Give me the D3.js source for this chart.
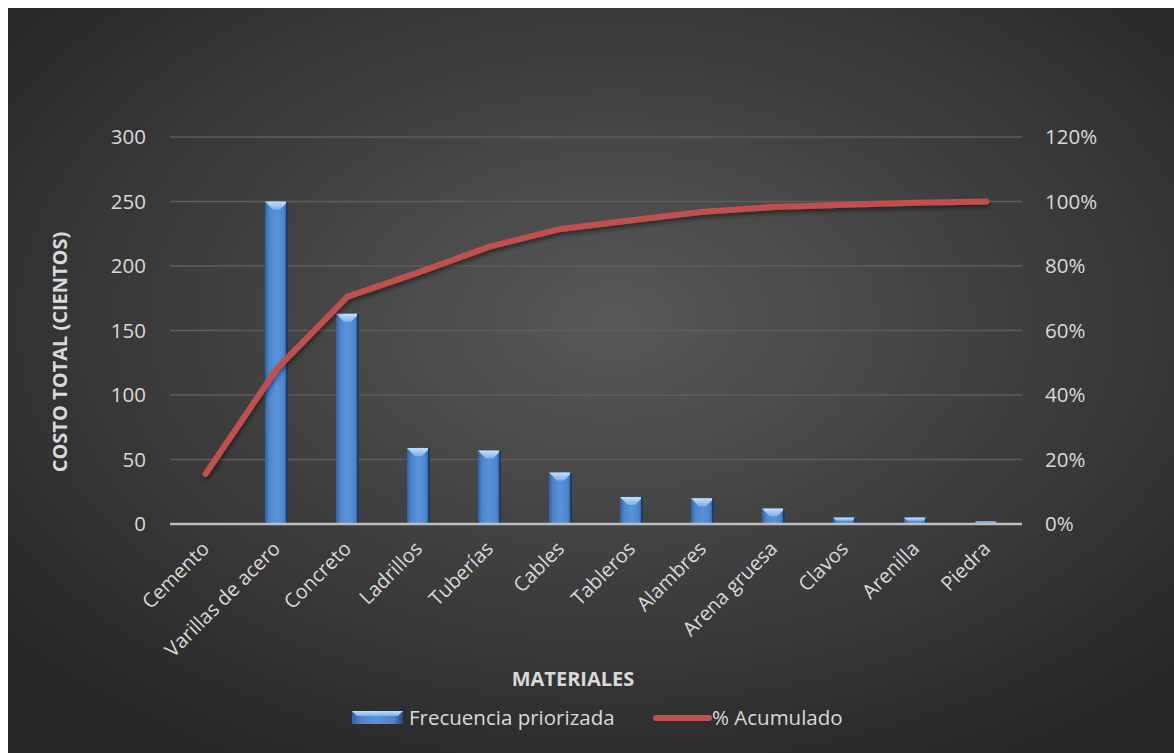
<!DOCTYPE html>
<html>
<head>
<meta charset="utf-8">
<script src="https://cdn.jsdelivr.net/npm/d3@7"></script>
<style>
  body { margin: 0; background: #fff; }
  svg text { font-family: "Open Sans", "DejaVu Sans", sans-serif; fill: #d9d9d9; }
</style>
</head>
<body>
<div class="chart"></div>
<script>
// datos
const materiales = ['Cemento', 'Varillas de acero', 'Concreto', 'Ladrillos', 'Tuberías', 'Cables',
                    'Tableros', 'Alambres', 'Arena gruesa', 'Clavos', 'Arenilla', 'Piedra'];
const frecuencia = [0, 250, 163, 59, 57, 40, 21, 20, 12, 5, 5, 2];
const acumulado = [15.5, 48, 70.5, 78, 86, 91.5, 94.2, 96.8, 98.3, 99.0, 99.6, 100];
const ticksIzq = [0, 50, 100, 150, 200, 250, 300];
const ticksDer = [0, 20, 40, 60, 80, 100, 120];

const W = 1174, H = 753;
const margin = {top: 137, right: 152, bottom: 229, left: 170};
const cw = W - margin.left - margin.right;
const ch = H - margin.top - margin.bottom;

const svg = d3.select('.chart').append('svg').attr('width', W).attr('height', H);
const defs = svg.append('defs');

// fondo radial
const rg = defs.append('radialGradient').attr('id', 'bg')
  .attr('cx', 0.52).attr('cy', 0.42).attr('r', 0.68);
rg.append('stop').attr('offset', '0%').attr('stop-color', '#585858');
rg.append('stop').attr('offset', '100%').attr('stop-color', '#262626');

const bg = defs.append('linearGradient').attr('id', 'barGrad').attr('x1', 0).attr('x2', 1).attr('y1', 0).attr('y2', 0);
bg.append('stop').attr('offset', '0%').attr('stop-color', '#30609e');
bg.append('stop').attr('offset', '18%').attr('stop-color', '#4d85cc');
bg.append('stop').attr('offset', '50%').attr('stop-color', '#5b93db');
bg.append('stop').attr('offset', '82%').attr('stop-color', '#4d85cc');
bg.append('stop').attr('offset', '100%').attr('stop-color', '#24497a');

const tg = defs.append('linearGradient').attr('id', 'topGrad').attr('x1', 0).attr('x2', 0).attr('y1', 0).attr('y2', 1);
tg.append('stop').attr('offset', '0%').attr('stop-color', '#c4e0fb');
tg.append('stop').attr('offset', '100%').attr('stop-color', '#7fb0ea');

const sh = defs.append('filter').attr('id', 'shadow').attr('x', '-10%').attr('y', '-10%').attr('width', '120%').attr('height', '130%');
sh.append('feDropShadow').attr('dx', 1).attr('dy', 3).attr('stdDeviation', 2)
  .attr('flood-color', '#000').attr('flood-opacity', 0.45);

svg.append('rect').attr('x', 8).attr('y', 8).attr('width', W - 8).attr('height', H - 8).attr('fill', 'url(#bg)');

const g = svg.append('g').attr('transform', `translate(${margin.left},${margin.top})`);

const x = d3.scaleBand().domain(materiales).range([0, cw]);
const y = d3.scaleLinear().domain([0, 300]).range([ch, 0]);
const y2 = d3.scaleLinear().domain([0, 120]).range([ch, 0]);

// grilla
g.selectAll('.grid').data(ticksIzq.filter(d => d > 0)).enter().append('line')
  .attr('x1', 0).attr('x2', cw)
  .attr('y1', d => y(d)).attr('y2', d => y(d))
  .attr('stroke', '#5e5e5e').attr('stroke-width', 1.3);

// ejes
const yAxis = g.append('g').call(d3.axisLeft(y).tickValues(ticksIzq).tickSize(0).tickPadding(24));
yAxis.select('.domain').remove();
yAxis.selectAll('text').style('font-size', '20.5px').attr('fill', '#d9d9d9');

const yAxis2 = g.append('g').attr('transform', `translate(${cw},0)`)
  .call(d3.axisRight(y2).tickValues(ticksDer).tickSize(0).tickPadding(23).tickFormat(d => d + '%'));
yAxis2.select('.domain').remove();
yAxis2.selectAll('text').style('font-size', '20.5px').attr('fill', '#d9d9d9');

// barras
const bw = 23;
const bars = g.selectAll('.bar').data(materiales.map((m, i) => ({m, v: frecuencia[i]})).filter(d => d.v > 0))
  .enter().append('g').attr('class', 'bar')
  .attr('transform', d => `translate(${x(d.m) + x.bandwidth() / 2 - bw / 2},${y(d.v)})`);
bars.append('rect').attr('width', bw).attr('height', d => ch - y(d.v)).attr('fill', 'url(#barGrad)');
bars.append('path').attr('fill', 'url(#topGrad)')
  .attr('d', d => {
    const t = Math.min(8, (ch - y(d.v)) * 0.5);
    return `M0,0 L${bw},0 L${bw - t},${t} L${t},${t} Z`;
  });
bars.append('rect').attr('x', bw - 2).attr('width', 2).attr('height', d => ch - y(d.v)).attr('fill', '#1d3c66');

// línea base
g.append('line').attr('x1', 0).attr('x2', cw).attr('y1', ch).attr('y2', ch)
  .attr('stroke', '#bdbdbd').attr('stroke-width', 2.5);

// línea acumulada
const line = d3.line().x((d, i) => x(materiales[i]) + x.bandwidth() / 2).y(d => y2(d));
g.append('path').datum(acumulado).attr('d', line)
  .attr('fill', 'none').attr('stroke', '#c0504d').attr('stroke-width', 6)
  .attr('stroke-linecap', 'round').attr('stroke-linejoin', 'round')
  .attr('filter', 'url(#shadow)');

// etiquetas categorías
g.selectAll('.xlab').data(materiales).enter().append('text')
  .attr('transform', d => `translate(${x(d) + x.bandwidth() / 2 + 5},${ch + 26}) rotate(-45)`)
  .attr('text-anchor', 'end')
  .style('font-size', '20px')
  .text(d => d);

// títulos de ejes
svg.append('text').attr('transform', `translate(67,352) rotate(-90)`)
  .attr('text-anchor', 'middle').style('font-size', '20px').style('font-weight', 'bold')
  .text('COSTO TOTAL (CIENTOS)');
svg.append('text').attr('x', 573).attr('y', 686)
  .attr('text-anchor', 'middle').style('font-size', '20px').style('font-weight', 'bold')
  .text('MATERIALES');

// leyenda
const leg = svg.append('g').attr('transform', 'translate(352,711)');
leg.append('rect').attr('width', 51).attr('height', 13).attr('fill', 'url(#barGrad)');
leg.append('path').attr('d', 'M0,0 L51,0 L46,5 L5,5 Z').attr('fill', 'url(#topGrad)');
leg.append('text').attr('x', 57).attr('y', 14).style('font-size', '20.5px').text('Frecuencia priorizada');
leg.append('line').attr('x1', 304).attr('x2', 357).attr('y1', 7).attr('y2', 7)
  .attr('stroke', '#c0504d').attr('stroke-width', 6).attr('stroke-linecap', 'round');
leg.append('text').attr('x', 360).attr('y', 14).style('font-size', '20.5px').text('% Acumulado');
</script>
</body>
</html>
